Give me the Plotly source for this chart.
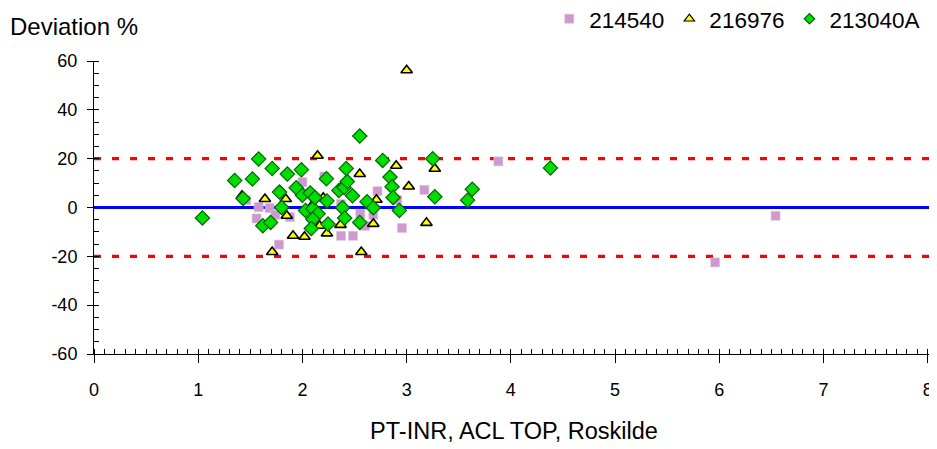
import plotly.graph_objects as go

# ---- data ----
s1_name = "214540"
s1_x = [1.46, 1.58, 1.685, 1.74, 1.56, 1.88, 1.775, 2.0, 2.0, 2.21, 2.12, 2.37, 2.37, 2.485,
        2.555, 2.68, 2.60, 2.72, 2.91, 2.955, 3.17, 3.88, 5.96, 6.54]
s1_y = [3.0, 0.2, -0.2, -3.0, -4.5, -3.9, -15.2, 10.4, 5.9, 12.7, 3.9, 1.4, -11.6, -11.6,
        -2.6, -3.0, -7.5, 6.7, 3.0, -8.4, 7.2, 18.9, -22.5, -3.4]

s2_name = "216976"
s2_x = [1.42, 1.64, 1.84, 1.85, 1.91, 1.71, 2.02, 2.145, 2.20, 2.085, 2.165, 2.365, 2.235,
        2.395, 2.55, 2.565, 2.68, 2.71, 2.90, 3.02, 3.00, 3.27, 3.19]
s2_y = [4.8, 3.5, 3.5, -3.4, -11.6, -18.2, -12.0, 21.2, 4.0, 0.4, -7.5, -7.1, -10.6,
        9.6, 13.7, -18.2, -6.7, 3.2, 17.1, 8.6, 56.2, 15.9, -6.3]

s3_name = "213040A"
s3_x = [1.04, 1.35, 1.43, 1.52, 1.58, 1.62, 1.695, 1.71, 1.78, 1.80, 1.855, 1.94, 1.99, 2.0,
        2.03, 2.075, 2.10, 2.12, 2.15, 2.10, 2.085, 2.245, 2.235, 2.23, 2.35, 2.40, 2.43,
        2.42, 2.385, 2.405, 2.48, 2.55, 2.55, 2.62, 2.68, 2.77, 2.84, 2.86, 2.87, 2.93,
        3.25, 3.27, 3.585, 3.63, 4.38]
s3_y = [-4.3, 11.1, 3.7, 11.7, 19.9, -7.5, -6.1, 16.0, 6.3, 0.0, 13.7, 8.1, 15.5, 5.0,
        -1.2, 5.9, -0.4, 4.1, -2.6, -4.8, -8.6, -6.8, 2.7, 11.8, 7.0, 8.2, 10.6,
        16.0, -0.1, -4.3, 4.8, -6.1, 29.3, 2.4, -0.1, 19.3, 12.5, 8.5, 4.1, -1.2,
        20.0, 4.4, 3.0, 7.5, 16.2]

zero_line = [0]
limit_lines = [-20, 20]

x_title = "PT-INR, ACL TOP, Roskilde"
y_title = "Deviation %"
x_ticks = [0, 1, 2, 3, 4, 5, 6, 7, 8]
x_ticktext = ["0", "1", "2", "3", "4", "5", "6", "7", "8"]
y_ticks = [-60, -40, -20, 0, 20, 40, 60]
y_ticktext = ["-60", "-40", "-20", "0", "20", "40", "60"]

FONT = "Liberation Sans, Arial, sans-serif"

styles = [
    (s1_name, s1_x, s1_y, "square", 9, 9, "#CC9ACC", 0.6, "#E0C0E0"),
    (s2_name, s2_x, s2_y, "triangle-up", 10, 9, "#FFFF00", 1.6, "#000000"),
    (s3_name, s3_x, s3_y, "diamond", 11, 8, "#00DD00", 1.2, "#006600"),
]

fig = go.Figure()
for name, xs, ys, sym, size, lsize, col, lw, lc in styles:
    fig.add_trace(go.Scatter(x=xs, y=ys, mode="markers", name=name, showlegend=False,
                             marker=dict(symbol=sym, size=size, color=col,
                                         line=dict(width=lw, color=lc))))
# legend entries (smaller symbols, as in the original legend)
for name, xs, ys, sym, size, lsize, col, lw, lc in styles:
    fig.add_trace(go.Scatter(x=[None], y=[None], mode="markers", name=name, showlegend=True,
                             hoverinfo="skip",
                             marker=dict(symbol=sym, size=lsize, color=col,
                                         line=dict(width=min(lw, 1.2), color=lc))))
# helper empty trace for crossing tick overlays
fig.add_trace(go.Scatter(x=[], y=[], xaxis="x2", yaxis="y2", showlegend=False, hoverinfo="skip"))

for v in zero_line:
    fig.add_shape(type="line", xref="paper", x0=0, x1=1, yref="y", y0=v, y1=v,
                  line=dict(color="#0000FF", width=3.2), layer="below")
for v in limit_lines:
    fig.add_shape(type="line", xref="paper", x0=0, x1=0.995, yref="y", y0=v, y1=v,
                  line=dict(color="#FF0000", width=3.2, dash="7px,11px"), layer="below")

axis_common = dict(showgrid=False, zeroline=False, showline=True, linecolor="#000000",
                   linewidth=1, tickcolor="#000000", tickwidth=1, automargin=False)

fig.update_layout(
    width=937, height=449,
    margin=dict(l=86, r=11, t=53, b=103, autoexpand=False),
    paper_bgcolor="white", plot_bgcolor="white",
    font=dict(family=FONT, color="#000000"),
    showlegend=True,
    legend=dict(orientation="h", x=0.542, xanchor="left", y=1.143, yanchor="middle",
                font=dict(size=22.5, family=FONT), itemwidth=30, tracegroupgap=0,
                bgcolor="rgba(0,0,0,0)"),
    xaxis=dict(range=[0, 8.06], tickmode="array", tickvals=x_ticks, ticktext=x_ticktext,
               ticks="outside", ticklen=8, ticklabelstandoff=11, ticklabeloverflow="allow",
               tickfont=dict(size=18, family=FONT),
               minor=dict(dtick=0.1, tick0=0, ticks="inside", ticklen=5, tickcolor="#000000"),
               title=dict(text=x_title, font=dict(size=23.5, family=FONT), standoff=23),
               anchor="y", **axis_common),
    yaxis=dict(range=[-60, 60], tickmode="array", tickvals=y_ticks, ticktext=y_ticktext,
               ticks="outside", ticklen=6, ticklabelstandoff=6,
               tickfont=dict(size=18, family=FONT),
               minor=dict(dtick=5, tick0=0, ticks="inside", ticklen=5, tickcolor="#000000"),
               anchor="x", **axis_common),
    xaxis2=dict(range=[0, 8.06], overlaying="x", anchor="y", side="bottom", showline=False,
                showgrid=False, zeroline=False, tickmode="array", tickvals=x_ticks,
                ticks="inside", ticklen=5, tickcolor="#000000", showticklabels=False,
                automargin=False),
    yaxis2=dict(range=[-60, 60], overlaying="y", anchor="x", side="left", showline=False,
                showgrid=False, zeroline=False, tickmode="array", tickvals=y_ticks,
                ticks="inside", ticklen=5, tickcolor="#000000", showticklabels=False,
                automargin=False),
    annotations=[dict(text=y_title, xref="paper", yref="paper", x=0, y=1, xshift=-86,
                      yshift=35, xanchor="left", yanchor="middle", showarrow=False,
                      font=dict(size=24, family=FONT))],
)

fig.write_html("out.html")
